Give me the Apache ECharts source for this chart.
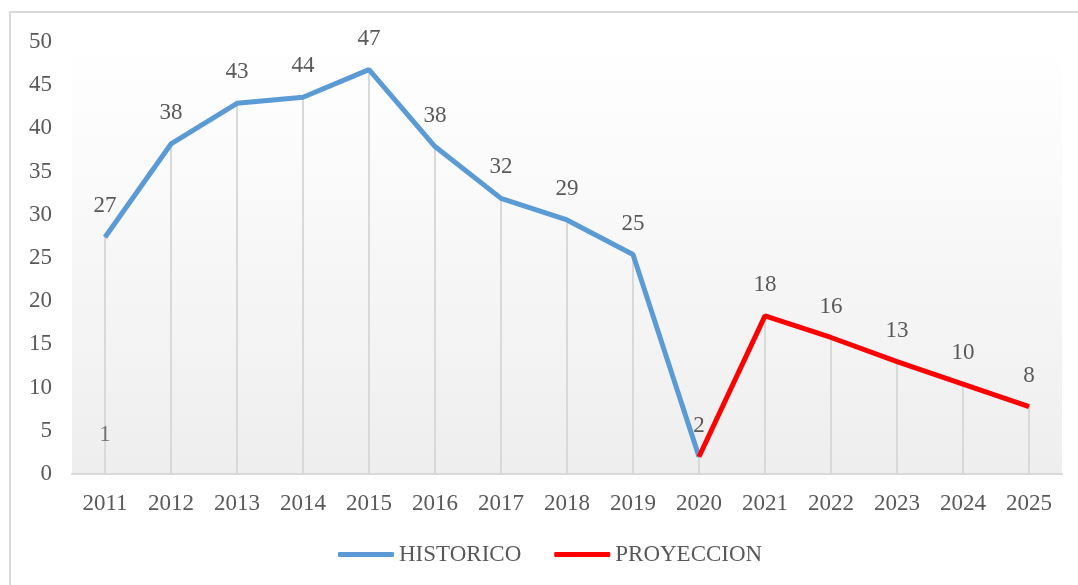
<!doctype html>
<html>
<head>
	<meta charset="utf-8">
	<title></title>
	<script src="https://cdn.jsdelivr.net/npm/echarts@6/dist/echarts.min.js"></script>
	<style>
		html, body { margin: 0; padding: 0; background: #fff; }
		#frame { position: absolute; left: 9px; top: 11px; width: 1100px; height: 600px; border: 2px solid #d9d9d9; border-right: none; border-bottom: none; }
		#chart { position: absolute; left: 0; top: 0; width: 1078px; height: 585px; }
	</style>
</head>
<body>
	<div id="frame"></div>
	<div id="chart"></div>
	<script>
		var years = ['2011','2012','2013','2014','2015','2016','2017','2018','2019','2020','2021','2022','2023','2024','2025'];
		var historico = [27.4, 38.2, 42.9, 43.6, 46.8, 37.9, 31.9, 29.4, 25.4, 2.0, null, null, null, null, null];
		var proyeccion = [null, null, null, null, null, null, null, null, null, 2.0, 18.3, 15.8, 13.0, 10.4, 7.8];
		// stray label sitting at 2011 in the original
		var extra = [1, null, null, null, null, null, null, null, null, null, null, null, null, null, null];

		var drops = years.map(function (y, i) {
			return historico[i] != null ? historico[i] : proyeccion[i];
		});

		var font = 'Liberation Serif';
		var txt = '#595959';
		var lbl = {
			show: true, position: 'top', distance: 19,
			fontFamily: font, fontSize: 23, color: txt,
			formatter: function (p) { return Math.round(p.value); }
		};

		var myChart = echarts.init(document.getElementById('chart'));
		var option = {
			animation: false,
			grid: {
				left: 72, right: 16, top: 42, bottom: 111,
				show: true, borderWidth: 0,
				backgroundColor: new echarts.graphic.LinearGradient(0, 0, 0, 1, [
					{ offset: 0, color: '#ffffff' },
					{ offset: 0.2, color: '#fcfcfc' },
					{ offset: 1, color: '#eeeeee' }
				])
			},
			legend: {
				data: ['HISTORICO', 'PROYECCION'],
				left: 333, top: 538,
				icon: 'roundRect', itemWidth: 56, itemHeight: 5, itemGap: 33,
				textStyle: { fontFamily: font, fontSize: 23, color: txt }
			},
			xAxis: {
				type: 'category', data: years, boundaryGap: true,
				axisLine: { lineStyle: { color: '#d9d9d9', width: 2 } },
				axisTick: { show: false },
				axisLabel: { margin: 18, fontFamily: font, fontSize: 23, color: txt },
				splitLine: { show: false }
			},
			yAxis: {
				type: 'value', min: 0, max: 50, interval: 5,
				axisLine: { show: false }, axisTick: { show: false },
				splitLine: { show: false },
				axisLabel: { margin: 20, fontFamily: font, fontSize: 23, color: txt }
			},
			series: [
				{
					type: 'bar', data: drops, barWidth: 2, silent: true,
					itemStyle: { color: '#d9d9d9' }
				},
				{
					name: 'HISTORICO', type: 'line', data: historico,
					symbol: 'circle', symbolSize: 1,
					lineStyle: { color: '#5b9bd5', width: 5 },
					itemStyle: { color: '#5b9bd5' },
					label: lbl, z: 3
				},
				{
					name: 'PROYECCION', type: 'line', data: proyeccion,
					symbol: 'circle', symbolSize: 1,
					lineStyle: { color: '#ff0000', width: 5 },
					itemStyle: { color: '#ff0000' },
					label: Object.assign({}, lbl, {
						formatter: function (p) { return p.dataIndex === 9 ? '' : Math.round(p.value); }
					}),
					z: 4
				},
				{
					name: 'extra', type: 'scatter', data: extra, symbolSize: 0,
					label: lbl
				}
			]
		};
		myChart.setOption(option);
	</script>
</body>
</html>
